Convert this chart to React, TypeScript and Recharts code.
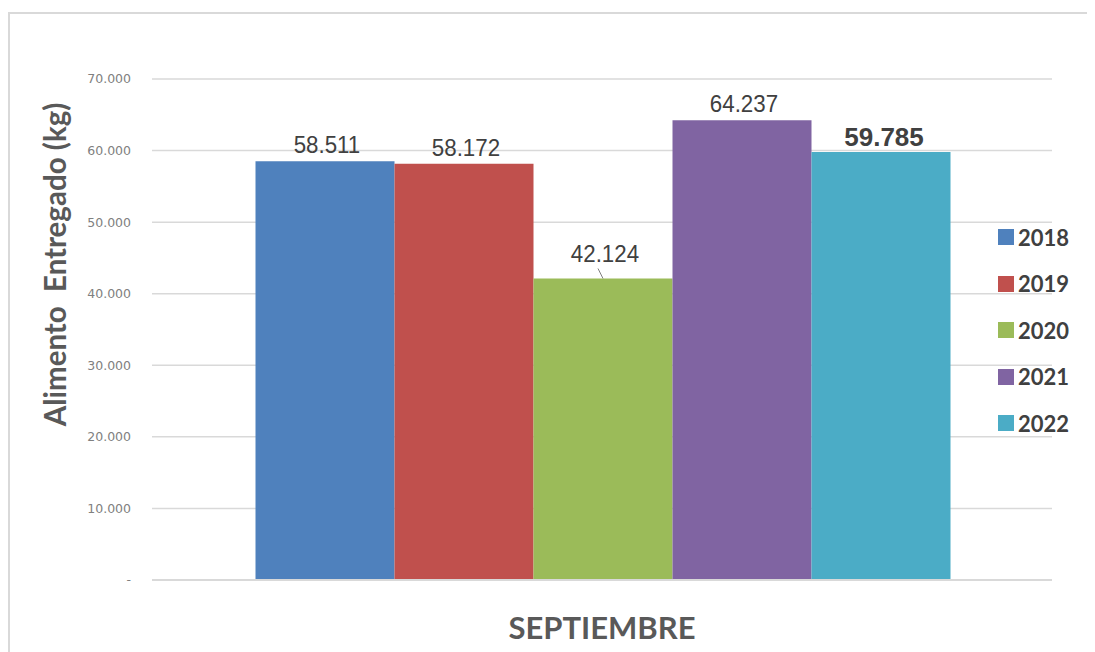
import React from "react";
import { BarChart, Bar, XAxis, YAxis, CartesianGrid, Legend, Label } from "recharts";

const categories = ["SEPTIEMBRE"];
const years = ["2018", "2019", "2020", "2021", "2022"];
const values2018 = [58511];
const values2019 = [58172];
const values2020 = [42124];
const values2021 = [64237];
const values2022 = [59785];
const yTicks = [0, 10000, 20000, 30000, 40000, 50000, 60000, 70000];
const colors = ["#4F81BD", "#C0504D", "#9BBB59", "#8064A2", "#4BACC6"];

const seriesValues = [values2018, values2019, values2020, values2021, values2022];
const data = categories.map((c, i) => {
  const row: Record<string, string | number> = { month: c };
  years.forEach((y, k) => {
    row["y" + y] = seriesValues[k][i];
  });
  return row;
});

const fmt = (v: number) => {
  if (v === 0) return "-";
  return String(Math.round(v)).replace(/\B(?=(\d{3})+(?!\d))/g, ".");
};

const makeLabel = (year: string) => (props: any) => {
  const { x, y, width, value } = props;
  const cx = x + width / 2;
  const bold = year === "2022";
  const lifted = year === "2020";
  const off = lifted ? 17 : bold ? 6 : 8;
  return (
    <g>
      {lifted && (
        <line x1={cx - 5} y1={y - 10} x2={cx} y2={y} stroke="#808080" strokeWidth={1} />
      )}
      <text
        x={cx + (bold ? 3 : 2)}
        y={y - off}
        textAnchor="middle"
        fill="#404040"
        fontSize={bold ? 26 : 23}
        fontWeight={bold ? 700 : 400}
        fontFamily="'Liberation Sans', Arial, sans-serif"
        transform={bold ? undefined : `translate(${cx} ${y - off}) scale(0.97 1.06) translate(${-cx} ${-(y - off)})`}
      >
        {fmt(value)}
      </text>
    </g>
  );
};

const renderLegend = (props: any) => {
  const { payload } = props;
  return (
    <div style={{ width: 100 }}>
      {payload.map((p: any) => (
        <div key={p.value} style={{ display: "flex", alignItems: "center", height: 46.5 }}>
          <span style={{ width: 16, height: 16, background: p.color, display: "inline-block", marginRight: 4 }} />
          <span style={{ fontFamily: "Lato, 'Open Sans', sans-serif", fontWeight: 700, fontSize: 22, color: "#404040" }}>
            {p.value}
          </span>
        </div>
      ))}
    </div>
  );
};

const YTitle = (props: any) => {
  const { viewBox } = props;
  const cx = viewBox.x + 46;
  const cy = viewBox.y + viewBox.height / 2 - 65;
  return (
    <text
      x={cx}
      y={cy}
      transform={`rotate(-90 ${cx} ${cy})`}
      textAnchor="middle"
      dominantBaseline="central"
      fill="#595959"
      fontSize={29.5}
      fontWeight={700}
      fontFamily="Lato, 'Open Sans', sans-serif"
      style={{ whiteSpace: "pre" }}
    >
      {"Alimento  Entregado (kg)"}
    </text>
  );
};

export default function App() {
  return (
    <div style={{ position: "relative", width: 1087, height: 644, background: "#fff" }}>
      <div
        style={{
          position: "absolute",
          left: 0,
          top: 4,
          right: -10,
          bottom: -10,
          borderTop: "2px solid #d9d9d9",
          borderLeft: "2px solid #d9d9d9",
        }}
      />
      <BarChart
        width={1087}
        height={644}
        data={data}
        margin={{ top: 71, right: 43, left: 0, bottom: 0 }}
        barCategoryGap="11.5%"
        barGap={0}
      >
        <CartesianGrid vertical={false} stroke="#d9d9d9" strokeWidth={1.5} />
        <XAxis
          dataKey="month"
          height={72}
          axisLine={{ stroke: "#d9d9d9", strokeWidth: 2 }}
          tickLine={false}
          tickSize={0}
          tickMargin={37}
          tick={{ fill: "#595959", fontSize: 31, fontWeight: 700, fontFamily: "Lato, 'Open Sans', sans-serif" }}
        />
        <YAxis
          width={144}
          domain={[0, 70000]}
          ticks={yTicks}
          axisLine={false}
          tickLine={false}
          tickSize={0}
          tickMargin={21}
          tickFormatter={fmt}
          tick={{ fill: "#808080", fontSize: 12.5, fontFamily: "'DejaVu Sans', Verdana, sans-serif" }}
        >
          <Label content={<YTitle />} />
        </YAxis>
        <Legend
          content={renderLegend}
          layout="vertical"
          align="right"
          verticalAlign="middle"
          wrapperStyle={{ position: "absolute", left: 990, top: 206, width: 0, height: 0, overflow: "visible" }}
        />
        {years.map((y, k) => (
          <Bar
            key={y}
            dataKey={"y" + y}
            name={y}
            fill={colors[k]}
            isAnimationActive={false}
            label={makeLabel(y)}
          />
        ))}
      </BarChart>
    </div>
  );
}
